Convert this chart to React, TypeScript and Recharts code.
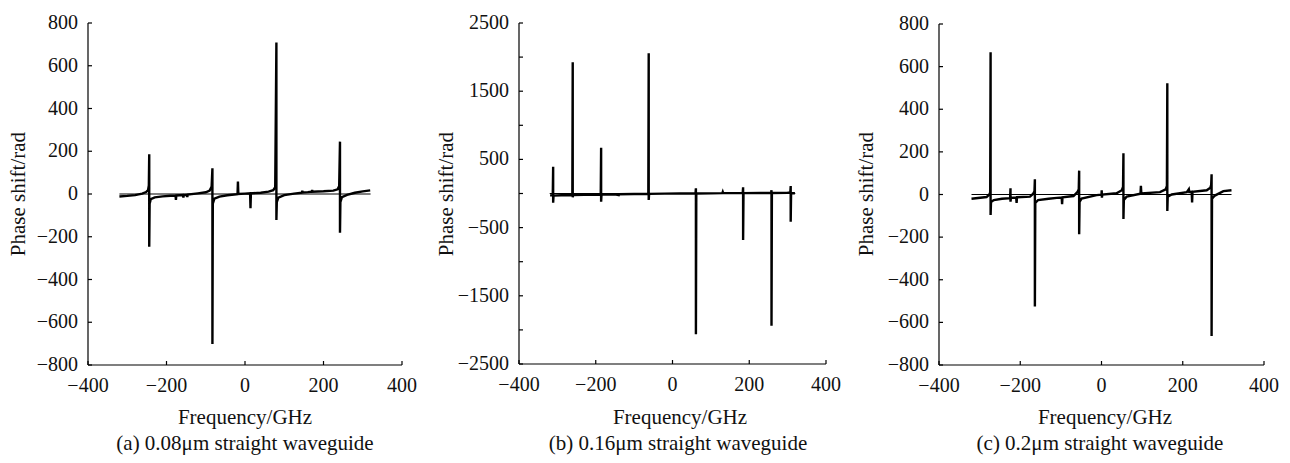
import { Line, LineChart, XAxis, YAxis } from "recharts";

const FONT = "Liberation Serif";

// ---- data (frequency in GHz, phase shift in rad) ----
const aFreq = [
  -320, -300, -280, -262, -252, -247, -245, -244, -244, -243,
  -240, -230, -210, -190, -177, -176, -175, -158, -157, -156,
  -148, -147, -146, -120, -100, -90, -85, -83, -83, -82,
  -78, -65, -45, -19, -18, -17, 0, 13, 14, 15,
  40, 60, 72, 77, 80, 80, 81, 85, 100, 125,
  145, 146, 147, 160, 170, 171, 172, 200, 225, 236,
  240, 242, 242, 243, 247, 260, 280, 300, 319,
];
const aPhase = [
  -12, -9, -5, 2, 9, 18, 40, 186, -247, -45,
  -24, -16, -11, -8, -7, -28, -7, -5, -17, -5,
  -4, -14, -3, 3, 8, 16, 35, 120, -702, -45,
  -22, -12, -6, -1, 58, 0, 2, 3, -67, 3,
  6, 11, 18, 32, 709, -122, -38, -17, -5, 2,
  6, 15, 7, 9, 11, 19, 11, 13, 16, 22,
  38, 245, -181, -38, -15, -4, 6, 12, 17,
];

const bFreq = [
  -319, -312, -311, -311, -310, -290, -261, -260, -260, -259,
  -230, -187, -186, -186, -185, -150, -140, -139, -100, -63,
  -62, -62, -61, -20, 20, 60, 61, 61, 62, 100,
  130, 131, 132, 183, 184, 184, 185, 230, 257, 258,
  258, 259, 300, 307, 308, 308, 309, 319,
];
const bPhase = [
  -27, -26, 393, -135, -30, -25, -22, 1923, -56, -22,
  -19, -15, 672, -120, -15, -13, -24, -11, -8, -5,
  2055, -95, -5, -2, 0, 2, 76, -2065, 0, 2,
  5, 22, 5, 7, 90, -682, 5, 7, 8, 47,
  -1938, 8, 10, 12, 110, -413, 6, 4,
];

const cFreq = [
  -320, -283, -276, -274, -273, -273, -272, -265, -245, -225,
  -224, -224, -223, -210, -209, -208, -176, -168, -165, -164,
  -164, -163, -156, -130, -110, -98, -97, -96, -69, -59,
  -56, -55, -55, -54, -49, -12, 0, 0.5, 1, 2,
  37, 50, 53, 54, 54, 55, 62, 96, 97, 98,
  144, 158, 161, 162, 162, 163, 173, 210, 215, 216,
  222, 223, 224, 259, 268, 270, 271, 271, 272, 279,
  300, 320,
];
const cPhase = [
  -20, -12, 0, 10, 667, -96, -35, -26, -20, -17,
  29, -34, -16, -14, -40, -13, -10, 4, 15, 71,
  -526, -40, -26, -20, -16, -14, -45, -13, -7, 12,
  25, 112, -187, -35, -19, -3, -1, 20, -15, 0,
  6, 20, 35, 193, -115, -25, -10, 4, 41, 5,
  11, 24, 40, 522, -77, -10, 0, 11, 25, 12,
  13, -37, 13, 20, 32, 45, 95, -664, -20, -5,
  16, 20,
];

// thin reference line at zero
const refFreq = [-320, 320];
const refPhase = [0, 0];

const xTicks = [-400, -200, 0, 200, 400];
const yTicksSmall = [-800, -600, -400, -200, 0, 200, 400, 600, 800];
const yTicksLarge = [-2500, -2000, -1500, -1000, -500, 0, 500, 1000, 1500, 2000, 2500];

const captions = [
  "(a) 0.08μm straight waveguide",
  "(b) 0.16μm straight waveguide",
  "(c) 0.2μm straight waveguide",
];
const xTitle = "Frequency/GHz";
const yTitle = "Phase shift/rad";

const toPoints = (f: number[], p: number[]) => f.map((v, i) => ({ f: v, p: p[i] }));

const fmt = (v: number) => (v < 0 ? `\u2212${Math.abs(v)}` : `${v}`);

const TICK_LEN = 4;

function BottomTick({ x, y, payload }: any) {
  return (
    <g>
      <line x1={x} x2={x} y1={y} y2={y - TICK_LEN} stroke="#000" strokeWidth={1.2} />
      <text x={x} y={y + 27} textAnchor="middle" fontSize={20} fontFamily={FONT} fill="#111">
        {fmt(payload.value)}
      </text>
    </g>
  );
}

function TopTick({ x, y }: any) {
  return <line x1={x} x2={x} y1={y} y2={y + TICK_LEN} stroke="#000" strokeWidth={1.2} />;
}

function RightTick({ x, y }: any) {
  return <line x1={x} x2={x - TICK_LEN} y1={y} y2={y} stroke="#000" strokeWidth={1.2} />;
}

function makeLeftTick(show: (v: number) => boolean) {
  return function LeftTick({ x, y, payload }: any) {
    return (
      <g>
        <line x1={x} x2={x + TICK_LEN} y1={y} y2={y} stroke="#000" strokeWidth={1.2} />
        {show(payload.value) && (
          <text x={x - 10} y={y + 6} textAnchor="end" fontSize={20} fontFamily={FONT} fill="#111">
            {fmt(payload.value)}
          </text>
        )}
      </g>
    );
  };
}

const panels = [
  {
    left: 0, yWidth: 88, right: 28, top: 23, xHeight: 98,
    domain: [-800, 800], ticks: yTicksSmall, show: () => true,
    data: toPoints(aFreq, aPhase), yLabelX: 18, titleX: 245, capX: 245,
  },
  {
    left: 430, yWidth: 89, right: 34, top: 23, xHeight: 99,
    domain: [-2500, 2500], ticks: yTicksLarge, show: (v: number) => Math.abs(v) % 1000 === 500,
    data: toPoints(bFreq, bPhase), yLabelX: 446, titleX: 680, capX: 678,
  },
  {
    left: 860, yWidth: 79, right: 26, top: 24, xHeight: 98,
    domain: [-800, 800], ticks: yTicksSmall, show: () => true,
    data: toPoints(cFreq, cPhase), yLabelX: 866, titleX: 1105, capX: 1100,
  },
];

const refData = toPoints(refFreq, refPhase);

const textStyle = {
  position: "absolute" as const,
  fontFamily: FONT,
  fontSize: 21,
  lineHeight: "24px",
  color: "#111",
  whiteSpace: "nowrap" as const,
  textAlign: "center" as const,
  width: 400,
};

export default function App() {
  return (
    <div style={{ position: "absolute", left: 0, top: 0, width: 1290, height: 463, background: "#fff", fontFamily: FONT }}>
      {panels.map((pn, i) => (
        <div key={i} style={{ position: "absolute", left: pn.left, top: 0 }}>
          <LineChart width={430} height={463} margin={{ top: pn.top, right: pn.right, bottom: 0, left: 0 }}>
            <XAxis
              xAxisId="b"
              type="number"
              dataKey="f"
              domain={[-400, 400]}
              ticks={xTicks}
              interval={0}
              height={pn.xHeight}
              tickSize={0}
              tickMargin={0}
              tick={<BottomTick />}
              axisLine={{ stroke: "#000", strokeWidth: 1.2 }}
            />
            <XAxis
              xAxisId="t"
              orientation="top"
              type="number"
              dataKey="f"
              domain={[-400, 400]}
              ticks={xTicks}
              interval={0}
              height={0}
              tickSize={0}
              tickMargin={0}
              tick={<TopTick />}
              axisLine={{ stroke: "#000", strokeWidth: 1.2 }}
            />
            <YAxis
              yAxisId="l"
              type="number"
              domain={pn.domain}
              ticks={pn.ticks}
              interval={0}
              width={pn.yWidth}
              tickSize={0}
              tickMargin={0}
              tick={makeLeftTick(pn.show)}
              axisLine={{ stroke: "#000", strokeWidth: 1.2 }}
            />
            <YAxis
              yAxisId="r"
              orientation="right"
              type="number"
              domain={pn.domain}
              ticks={pn.ticks}
              interval={0}
              width={0}
              tickSize={0}
              tickMargin={0}
              tick={<RightTick />}
              axisLine={{ stroke: "#000", strokeWidth: 1.2 }}
            />
            <Line
              xAxisId="t"
              yAxisId="r"
              data={refData}
              dataKey="p"
              type="linear"
              stroke="#000"
              strokeWidth={1.1}
              dot={false}
              isAnimationActive={false}
            />
            <Line
              xAxisId="b"
              yAxisId="l"
              data={pn.data}
              dataKey="p"
              type="linear"
              stroke="#000"
              strokeWidth={2.4}
              dot={false}
              isAnimationActive={false}
            />
          </LineChart>
        </div>
      ))}
      {panels.map((pn, i) => (
        <div key={`t${i}`}>
          <div style={{ ...textStyle, left: pn.titleX - 200, top: 405 }}>{xTitle}</div>
          <div style={{ ...textStyle, left: pn.capX - 200, top: 431 }}>{captions[i]}</div>
          <div
            style={{
              ...textStyle,
              width: 200,
              left: pn.yLabelX - 100,
              top: 194 - 12,
              transform: "rotate(-90deg)",
            }}
          >
            {yTitle}
          </div>
        </div>
      ))}
    </div>
  );
}
